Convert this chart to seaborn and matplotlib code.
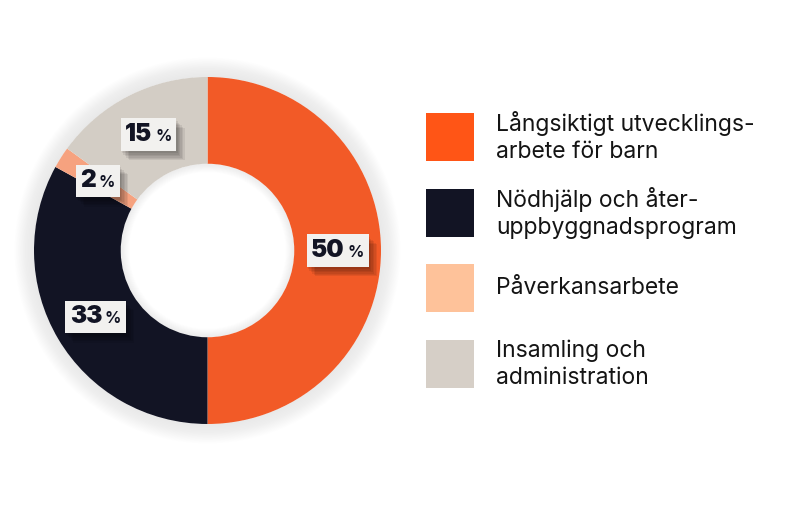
import numpy as np
import matplotlib
matplotlib.use("Agg")
import matplotlib.pyplot as plt
import seaborn as sns
from matplotlib import patheffects as pe
from matplotlib.offsetbox import TextArea, HPacker, AnnotationBbox
from matplotlib.patches import Wedge

categories = ["Långsiktigt utvecklings-\narbete för barn",
              "Nödhjälp och åter-\nuppbyggnadsprogram",
              "Påverkansarbete",
              "Insamling och\nadministration"]
values = [50, 33, 2, 15]
pie_colors = ["#F25A27", "#121424", "#F6A27F", "#D3CDC5"]
legend_colors = ["#FF5516", "#121424", "#FEC29A", "#D6CFC7"]

sns.set_theme(style="white")
plt.rcParams['font.family'] = ['Inter', 'DejaVu Sans']

W, H = 800, 508
fig = plt.figure(figsize=(8, 5.08), dpi=100)
fig.patch.set_facecolor("white")
cx, cy, R = 207.5, 250.5, 173.5
ax = fig.add_axes([(cx - R) / W, (H - cy - R) / H, 2 * R / W, 2 * R / H])

# soft glow around the ring
for k in range(14):
    rr = 1 + 0.008 * (k + 1)
    ax.add_patch(Wedge((0, 0), rr, 0, 360, width=rr - 0.999, facecolor="#9a9a9a",
                       alpha=0.012, edgecolor="none", clip_on=False, zorder=0))

wedges, _ = ax.pie(values, colors=pie_colors, startangle=90, counterclock=False,
                   wedgeprops=dict(width=0.5, linewidth=0), radius=1)
for w in wedges:
    w.set_zorder(2)
# inner shading of the hole
for k in range(10):
    ax.add_patch(Wedge((0, 0), 0.501, 0, 360, width=0.005 * (k + 1), facecolor="#9a9a9a",
                       alpha=0.012, edgecolor="none", zorder=1.5))
ax.set_xlim(-1, 1)
ax.set_ylim(-1, 1)
ax.set_aspect("equal")
ax.axis("off")

shadow = [pe.SimplePatchShadow(offset=(o, -o - 1), shadow_rgbFace="#000000", alpha=0.07)
          for o in (1, 2, 3, 4, 5, 6)] + [pe.Normal()]
for w, v in zip(wedges, values):
    ang = np.deg2rad((w.theta1 + w.theta2) / 2)
    r = 0.75
    x, y = r * np.cos(ang), r * np.sin(ang)
    num = TextArea(f"{v}", textprops=dict(fontsize=17.5, fontweight="black", color="#121424"))
    pct = TextArea("%", textprops=dict(fontsize=11.5, fontweight="bold", color="#121424"))
    box = HPacker(children=[num, pct], align="baseline", pad=0, sep=2)
    ab = AnnotationBbox(box, (x, y), frameon=True, pad=0.55, box_alignment=(0.5, 0.5),
                        bboxprops=dict(boxstyle="square", facecolor="#F2F1EF", edgecolor="none"),
                        zorder=5)
    ab.patch.set_path_effects(shadow)
    ax.add_artist(ab)

# legend
lax = fig.add_axes([0, 0, 1, 1])
lax.set_xlim(0, W)
lax.set_ylim(H, 0)
lax.axis("off")
y0, step = 137, 75.7
sq = 47 * 72 / 100
for i, (lab, col) in enumerate(zip(categories, legend_colors)):
    yy = y0 + i * step
    lax.scatter([450], [yy], marker="s", s=sq ** 2, color=col, linewidths=0)
    lax.text(496, yy, lab, fontsize=16.5, color="#141414", va="center", ha="left",
             linespacing=1.3)

fig.savefig("out.png", dpi=100, facecolor="white")
